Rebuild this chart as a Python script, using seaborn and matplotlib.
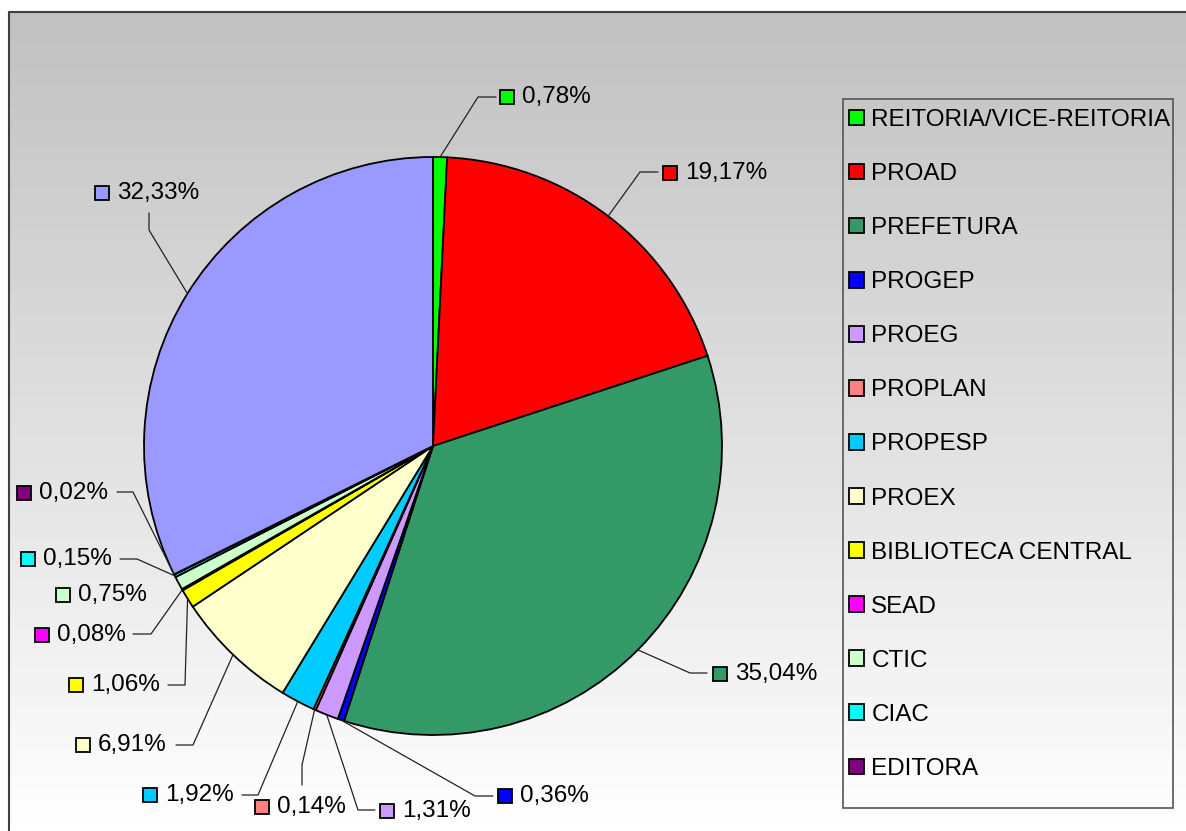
import numpy as np
import matplotlib
matplotlib.use("Agg")
import matplotlib.pyplot as plt
import seaborn as sns
from matplotlib.patches import Rectangle

# ---- data ----
categories = ["REITORIA/VICE-REITORIA", "PROAD", "PREFETURA", "PROGEP", "PROEG",
              "PROPLAN", "PROPESP", "PROEX", "BIBLIOTECA CENTRAL", "SEAD", "CTIC",
              "CIAC", "EDITORA", ""]
values = [0.78, 19.17, 35.04, 0.36, 1.31, 0.14, 1.92, 6.91, 1.06, 0.08, 0.75,
          0.15, 0.02, 32.33]
colors = ["#00FF00", "#FF0000", "#339966", "#0000FF", "#CC99FF", "#FF8080",
          "#00CCFF", "#FFFFCC", "#FFFF00", "#FF00FF", "#CCFFCC", "#00FFFF",
          "#800080", "#9999FF"]

# ---- layout (pixel coordinates of label markers and leader elbows) ----
label_layout = [
    ((507, 97), [(478, 97), (496, 97)]),
    ((670, 173), [(640, 172), (658, 172)]),
    ((720, 674), [(690, 673), (707, 673)]),
    ((505, 796), [(475, 796), (493, 796)]),
    ((387, 811), [(358, 810), (375, 810)]),
    ((262, 807), [(302, 765), (302, 785)]),
    ((150, 795), [(258, 795), (242, 795)]),
    ((83, 745), [(193, 745), (176, 745)]),
    ((76, 685), [(185, 685), (168, 685)]),
    ((42, 635), [(151, 634), (133, 634)]),
    ((63, 595), []),
    ((28, 559), [(137, 559), (120, 559)]),
    ((24, 493), [(133, 492), (117, 492)]),
    ((102, 193), [(149, 230), (149, 213)]),
]

sns.set_style("white")
plt.rcParams['font.family'] = ['Liberation Sans', 'DejaVu Sans']

W, H = 1186, 831
fig = plt.figure(figsize=(W / 100, H / 100), dpi=100)
ax = fig.add_axes([0, 0, 1, 1])


def py(y):
    return H - y


# background gradient panel
grad = np.linspace(192 / 255, 1.0, 256).reshape(-1, 1)
ax.imshow(grad, extent=[9, W + 10, -10, py(12)], aspect='auto', cmap='gray',
          vmin=0, vmax=1, origin='upper', zorder=0, interpolation='bilinear')
ax.plot([9, 9], [py(12), -10], color='#404040', lw=1.5, zorder=1)
ax.plot([9, W + 10], [py(12), py(12)], color='#404040', lw=1.5, zorder=1)

cx, cy, R = 433, py(446), 289
wedges, _ = ax.pie(values, colors=colors, startangle=90, counterclock=False,
                   center=(cx, cy), radius=R, frame=True,
                   wedgeprops=dict(edgecolor='black', linewidth=1.3))
for w in wedges:
    w.set_zorder(2)

total = sum(values)
cum = 0.0
for v, col, (mpos, path) in zip(values, colors, label_layout):
    mid = cum + v / 2
    cum += v
    ang = np.deg2rad(90 - 360 * mid / total)
    ax_, ay_ = cx + R * np.cos(ang), cy + R * np.sin(ang)
    if path:
        xs = [ax_] + [p[0] for p in path]
        ys = [ay_] + [py(p[1]) for p in path]
        ax.plot(xs, ys, color='#222222', lw=0.9, zorder=3)
    mx, my = mpos
    ax.plot(mx, py(my), marker='s', ms=10, mfc=col, mec='black', mew=1.3, zorder=4)
    txt = f"{v:.2f}".replace('.', ',') + "%"
    ax.text(mx + 15, py(my), txt, fontsize=17.5, va='center', ha='left',
            color='black', zorder=4)

# legend
leg = ax.legend(wedges[:13], categories[:13], loc='upper left',
                bbox_to_anchor=(849, py(109)), bbox_transform=ax.transData,
                frameon=False, fontsize=17.5, handlelength=0.62, handleheight=0.62,
                handletextpad=0.3, labelspacing=1.32, borderpad=0, borderaxespad=0,
                labelcolor='black')
for h in leg.legend_handles:
    h.set_linewidth(1.3)
ax.add_patch(Rectangle((843, py(808)), 1173 - 843, 808 - 99, fill=False,
                       edgecolor='#555555', lw=1.2, zorder=5))

ax.set_xlim(0, W)
ax.set_ylim(0, H)
ax.set_aspect('auto')
ax.set_axis_off()

fig.savefig("out.png", dpi=100)
